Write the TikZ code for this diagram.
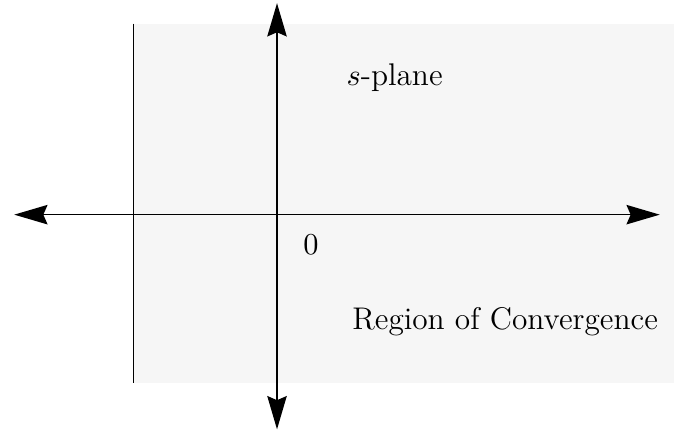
\documentclass[tikz,border=0pt]{standalone}
\usepackage{amsmath}
\usetikzlibrary{arrows.meta, positioning}

\begin{document}
\begin{tikzpicture}[
    axis/.style={{Stealth[length=12pt, width=7pt, inset=1.5pt]}-{Stealth[length=12pt, width=7pt, inset=1.5pt]}, line width=0.6pt},
    roc/.style={fill=black!3.5, draw=none},
    lbl/.style={font=\fontsize{11.3}{13.5}\selectfont}
]
\useasboundingbox (-3.51,-2.77) rectangle (5.03,2.72);

\fill[roc] (-1.82,-2.13) rectangle (5.03,2.42);

\coordinate (xl) at (-3.33,0);
\coordinate (xr) at (4.85,0);
\coordinate (yt) at (0,2.68);
\coordinate (yb) at (0,-2.72);
\coordinate (st) at (-1.82,2.42);
\coordinate (sb) at (-1.82,-2.13);

\draw[line width=0.6pt] (st) -- (sb);
\draw[axis] (xl) -- (xr);
\draw[axis] (yt) -- (yb);

\node[lbl] (plane) at (1.49,1.73) {$s$-plane};
\node[lbl] (zero) at (0.43,-0.38) {$0$};
\node[lbl] (region) at (2.89,-1.35) {Region of Convergence};

\end{tikzpicture}
\end{document}
